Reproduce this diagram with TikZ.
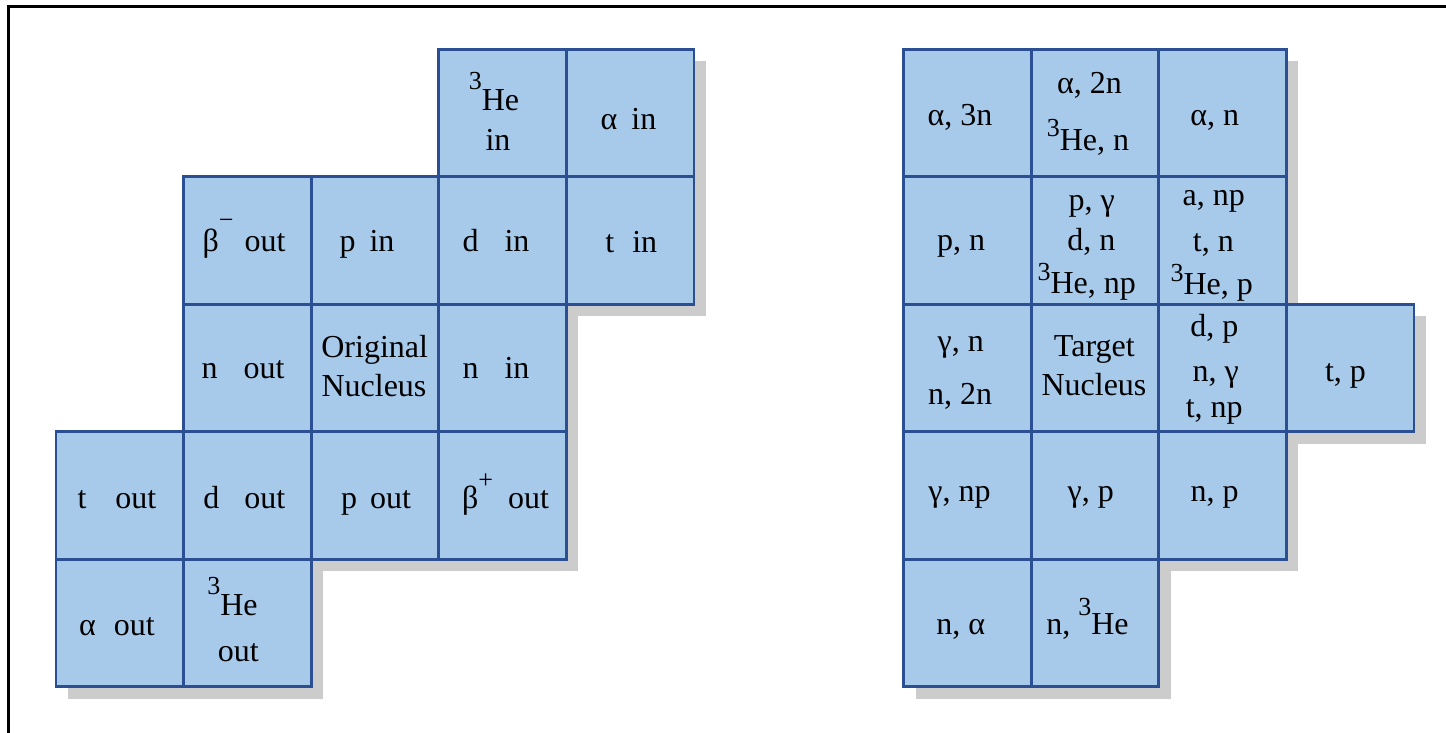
\documentclass[tikz,border=0pt]{standalone}
\usepackage{fontspec}
\setmainfont{Liberation Serif}
\definecolor{cellfill}{RGB}{167,201,234}
\definecolor{cellborder}{RGB}{44,79,148}
\definecolor{shadowc}{RGB}{204,204,204}
\newcommand\upsc[2][18pt]{\raisebox{#1}{\fontsize{26}{26}\selectfont #2}}
\tikzset{
  cellbox/.style={draw=cellborder, fill=cellfill, line width=2.8pt,
    minimum width=127.6pt, minimum height=127.4pt, inner sep=0pt, outer sep=0pt},
  txt/.style={anchor=base, inner sep=0pt, outer sep=0pt, font=\fontsize{32}{38}\selectfont},
  shadowbox/.style={fill=shadowc}
}
\begin{document}
\begin{tikzpicture}[x=1pt,y=-1pt]
\useasboundingbox (0,0) rectangle (1446,733);
\fill[white] (0,0) rectangle (1446,733);
% frame (only top and left edges inside the picture)
\draw[line width=2.5pt, line join=miter] (8.7,740) -- (8.7,6.3) -- (1450,6.3);

% ---------- left grid ----------
\foreach \c/\r in {3/0,4/0,1/1,2/1,3/1,4/1,1/2,2/2,3/2,0/3,1/3,2/3,3/3,0/4,1/4}{
  \fill[shadowbox] ({56+127.6*\c+12},{49.5+127.4*\r+12}) rectangle +(127.6,127.4);
}
\foreach \c/\r in {3/0,4/0,1/1,2/1,3/1,4/1,1/2,2/2,3/2,0/3,1/3,2/3,3/3,0/4,1/4}{
  \node[cellbox] (L\c\r) at ({56+127.6*(\c+0.5)},{49.5+127.4*(\r+0.5)}) {};
}
% ---------- right grid ----------
\foreach \c/\r in {0/0,1/0,2/0,0/1,1/1,2/1,0/2,1/2,2/2,3/2,0/3,1/3,2/3,0/4,1/4}{
  \fill[shadowbox] ({903.6+127.6*\c+12},{49.5+127.4*\r+12}) rectangle +(127.6,127.4);
}
\foreach \c/\r in {0/0,1/0,2/0,0/1,1/1,2/1,0/2,1/2,2/2,3/2,0/3,1/3,2/3,0/4,1/4}{
  \node[cellbox] (R\c\r) at ({903.6+127.6*(\c+0.5)},{49.5+127.4*(\r+0.5)}) {};
}

% ---------- left texts ----------
\node[txt] (tL30a) at (494,110.7) {\upsc[21pt]{3}He};
\node[txt] (tL30b) at (498,151) {in};
\node[txt] (tL40) at (628.5,129.5) {α\hspace{14pt}in};
\node[txt] (tL11) at (244,251.7) {β\upsc[23pt]{−}\hspace{11pt}out};
\node[txt] (tL21) at (367,251.7) {p\hspace{14pt}in};
\node[txt] (tL31) at (496,251.7) {d\hspace{26pt}in};
\node[txt] (tL41) at (631.3,252.3) {t\hspace{18pt}in};
\node[txt] (tL12) at (243,378.3) {n\hspace{26pt}out};
\node[txt] (tL22a) at (374.7,357.3) {Original};
\node[txt] (tL22b) at (374,396.7) {Nucleus};
\node[txt] (tL32) at (496,378.3) {n\hspace{26pt}in};
\node[txt] (tL03) at (117,508) {t\hspace{29pt}out};
\node[txt] (tL13) at (244.4,508) {d\hspace{25pt}out};
\node[txt] (tL23) at (376,508) {p\hspace{13pt}out};
\node[txt] (tL33) at (505.5,508) {β\upsc[20pt]{+}\hspace{15pt}out};
\node[txt] (tL04) at (117,635) {α\hspace{18pt}out};
\node[txt] (tL14a) at (232.5,615) {\upsc[21pt]{3}He};
\node[txt] (tL14b) at (238.3,661.7) {out};

% ---------- right texts ----------
\node[txt] (tR00) at (960,126) {α, 3n};
\node[txt] (tR10a) at (1089.5,94) {α, 2n};
\node[txt] (tR10b) at (1088,151) {\upsc[14pt]{3}He, n};
\node[txt] (tR20) at (1214.7,126) {α, n};
\node[txt] (tR01) at (961,250.7) {p, n};
\node[txt] (tR11a) at (1091.7,210) {p, γ};
\node[txt] (tR11b) at (1091.3,250.7) {d, n};
\node[txt] (tR11c) at (1086.7,293.3) {\upsc[13pt]{3}He, np};
\node[txt] (tR21a) at (1213.7,205) {a, np};
\node[txt] (tR21b) at (1213.3,251) {t, n};
\node[txt] (tR21c) at (1211.7,294) {\upsc[13pt]{3}He, p};
\node[txt] (tR02a) at (960.8,351.7) {γ, n};
\node[txt] (tR02b) at (960,404) {n, 2n};
\node[txt] (tR12a) at (1094.3,356) {Target};
\node[txt] (tR12b) at (1094,395.7) {Nucleus};
\node[txt] (tR22a) at (1214.3,336.7) {d, p};
\node[txt] (tR22b) at (1215.8,381) {n, γ};
\node[txt] (tR22c) at (1214.2,417.3) {t, np};
\node[txt] (tR32) at (1345.5,381.7) {t, p};
\node[txt] (tR03) at (959.5,501.7) {γ, np};
\node[txt] (tR13) at (1090.8,501.7) {γ, p};
\node[txt] (tR23) at (1214.7,501.7) {n, p};
\node[txt] (tR04) at (960.8,634) {n, α};
\node[txt] (tR14) at (1087.5,634) {n, \upsc[19pt]{3}He};
\end{tikzpicture}
\end{document}
